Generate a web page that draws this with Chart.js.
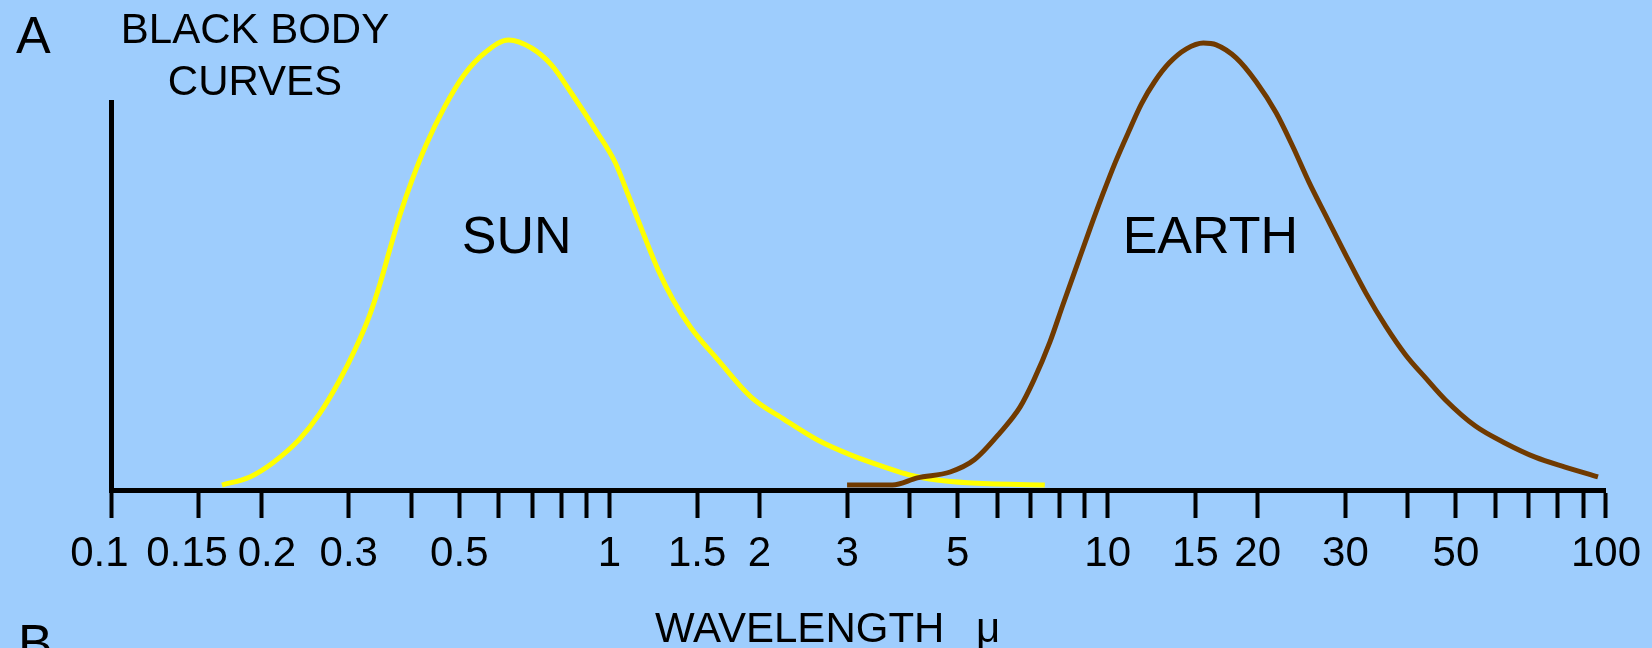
<!DOCTYPE html>
<html>
<head>
<meta charset="utf-8">
<title>Black body curves</title>
<script src="https://cdn.jsdelivr.net/npm/chart.js@4.4.1/dist/chart.umd.min.js"></script>
<style>
  html, body { margin: 0; padding: 0; background: #9ecdfd; }
  #wrap { width: 1652px; height: 648px; }
</style>
</head>
<body>
<div id="wrap"><canvas id="bbChart" width="1652" height="648"></canvas></div>
<script>
// values (wavelength in microns, relative intensity, peak = 100)
const sunWavelength = [0.167, 0.19, 0.211, 0.239, 0.262, 0.287, 0.31, 0.33, 0.347, 0.363, 0.38, 0.402, 0.429, 0.466, 0.511, 0.565, 0.628, 0.698, 0.766, 0.839, 0.938, 1.028, 1.091, 1.169, 1.253, 1.343, 1.459, 1.652, 1.923, 2.249, 2.618, 3.048, 3.565, 4.018, 4.55, 5.224, 7.48];
const sunIntensity = [1.1, 2.9, 6.0, 11.3, 16.9, 24.2, 31.6, 38.7, 46, 53.6, 61.1, 68.9, 76.7, 84.9, 92.2, 97.3, 100, 98.2, 94.4, 88.2, 80, 72.7, 65.6, 57.1, 48.9, 42.2, 36, 28.9, 20.7, 15.6, 11.1, 7.8, 5.1, 3.3, 2.2, 1.6, 1.1];

const earthWavelength = [3.0, 3.7, 4.15, 4.83, 5.4, 6.08, 6.67, 7.11, 7.66, 8.13, 8.67, 9.2, 9.77, 10.37, 11.02, 11.69, 12.42, 13.3, 14.39, 15.56, 16.52, 18.11, 19.86, 21.78, 23.55, 25.35, 27.42, 30.06, 32.96, 36.14, 39.63, 43.45, 47.64, 54.7, 62.81, 72.11, 82.79, 96.38];
const earthIntensity = [1.1, 1.1, 2.7, 4.0, 6.7, 12.7, 18.4, 24.4, 32.9, 41.1, 49.8, 57.8, 65.6, 72.9, 79.6, 85.8, 90.7, 94.9, 98, 99.3, 98.9, 96, 90.7, 83.8, 76.2, 68.4, 60.9, 52.2, 43.8, 36.4, 30, 24.9, 20, 14.2, 10.4, 7.3, 5.1, 2.9];

const tickValues = [0.1, 0.15, 0.2, 0.3, 0.4, 0.5, 0.6, 0.7, 0.8, 0.9, 1, 1.5, 2, 3, 4, 5, 6, 7, 8, 9, 10, 15, 20, 30, 40, 50, 60, 70, 80, 90, 100];
const tickLabels = [0.1, 0.15, 0.2, 0.3, 0.5, 1, 1.5, 2, 3, 5, 10, 15, 20, 30, 50, 100];

const FONT = "'Liberation Sans', Arial, sans-serif";

function toPoints(xs, ys) {
    return xs.map((x, i) => ({ x: x, y: ys[i] }));
}

// the crowded labels at the left end sit a little off their ticks in the original
function tickText(v) {
    if (!tickLabels.includes(v)) return '';
    const s = String(v);
    if (v === 0.1 || v === 0.15) return s + '  ';
    if (v === 0.2) return ' ' + s;
    return s;
}

// free text on the drawing: panel letters, title, curve names, axis name
const textPlugin = {
    id: 'texts',
    beforeDraw(chart) {
        const ctx = chart.ctx;
        ctx.save();
        ctx.fillStyle = '#9ecdfd';
        ctx.fillRect(0, 0, chart.width, chart.height);
        ctx.restore();
    },
    afterDraw(chart) {
        const ctx = chart.ctx;
        const xs = chart.scales.x;
        ctx.save();
        ctx.fillStyle = '#000';
        ctx.textBaseline = 'alphabetic';

        ctx.font = '52px ' + FONT;
        ctx.textAlign = 'left';
        ctx.fillText('A', 16, 53);
        ctx.fillText('B', 18, 661);

        ctx.font = '42px ' + FONT;
        ctx.textAlign = 'center';
        ctx.fillText('BLACK BODY', 255, 43);
        ctx.fillText('CURVES', 255, 95);

        ctx.font = '52px ' + FONT;
        ctx.fillText('SUN', xs.getPixelForValue(0.652), 253);
        ctx.fillText('EARTH', xs.getPixelForValue(16.07), 253);

        ctx.font = '42px ' + FONT;
        ctx.textAlign = 'left';
        ctx.wordSpacing = '20px';
        ctx.fillText('WAVELENGTH μ', 655, 642);
        ctx.restore();
    }
};

const ctx = document.getElementById('bbChart').getContext('2d');

new Chart(ctx, {
    type: 'line',
    data: {
        datasets: [
            {
                label: 'EARTH',
                data: toPoints(earthWavelength, earthIntensity),
                borderColor: '#703a00',
                borderWidth: 5,
                pointRadius: 0,
                cubicInterpolationMode: 'monotone',
                clip: false
            },
            {
                label: 'SUN',
                data: toPoints(sunWavelength, sunIntensity),
                borderColor: '#ffff00',
                borderWidth: 5,
                pointRadius: 0,
                cubicInterpolationMode: 'monotone',
                clip: false
            }
        ]
    },
    options: {
        responsive: false,
        animation: false,
        layout: { padding: { top: 102, right: 42, left: 0, bottom: 0 } },
        plugins: {
            legend: { display: false },
            tooltip: { enabled: false }
        },
        scales: {
            x: {
                type: 'logarithmic',
                min: 0.1,
                max: 100,
                afterBuildTicks: scale => {
                    scale.ticks = tickValues.map(v => ({ value: v }));
                },
                afterFit: scale => { scale.height = 158; },
                border: { display: true, color: '#000', width: 5 },
                grid: {
                    display: true,
                    drawOnChartArea: false,
                    drawTicks: true,
                    tickLength: 28,
                    tickWidth: 4,
                    tickColor: '#000'
                },
                ticks: {
                    autoSkip: false,
                    maxRotation: 0,
                    padding: 11,
                    color: '#000',
                    font: { family: FONT, size: 42 },
                    callback: v => tickText(v)
                }
            },
            y: {
                type: 'linear',
                min: 0,
                max: 86.2,
                afterFit: scale => { scale.width = 111; },
                border: { display: true, color: '#000', width: 5 },
                grid: { display: true, drawOnChartArea: false, drawTicks: false },
                ticks: { display: false }
            }
        }
    },
    plugins: [textPlugin]
});
</script>
</body>
</html>
